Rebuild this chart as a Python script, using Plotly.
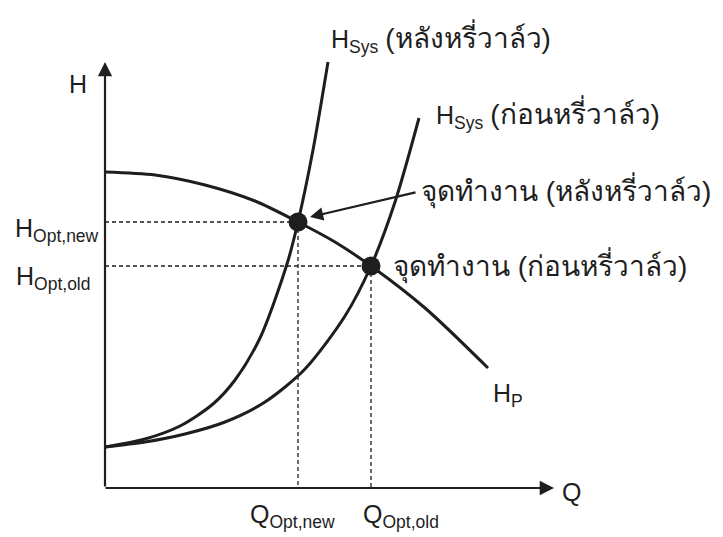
import plotly.graph_objects as go

# Pump curve H_P (flow Q, head H), arbitrary schematic units
pump_q = [0, 50, 100, 150, 193, 230, 266, 320, 383]
pump_h = [316, 313, 303, 287, 266, 246, 222, 180, 120]

# System curve after throttling the valve (steeper)
sys_new_q = [0, 40, 75, 108, 130, 155, 182, 193, 208, 223]
sys_new_h = [41, 49, 62, 84, 108, 150, 224, 266, 338, 426]

# System curve before throttling the valve
sys_old_q = [0, 40, 80, 120, 160, 200, 240, 266, 290, 314]
sys_old_h = [41, 46, 54, 66, 86, 119, 172, 222, 286, 370]

# Operating points: (after throttling, before throttling)
op_q = [193, 266]
op_h = [266, 222]

INK = "#1e1e1e"
FONT = "Liberation Sans, Arial, Noto Sans, sans-serif"

fig = go.Figure()

# Dashed guide lines from each operating point to the axes
for q, h in zip(op_q, op_h):
    fig.add_trace(go.Scatter(x=[0, q], y=[h, h], mode="lines",
                             line=dict(color=INK, width=1.3, dash="4px,3px"),
                             hoverinfo="skip", showlegend=False))
    fig.add_trace(go.Scatter(x=[q, q], y=[h, 0], mode="lines",
                             line=dict(color=INK, width=1.3, dash="4px,3px"),
                             hoverinfo="skip", showlegend=False))

for qs, hs in [(pump_q, pump_h), (sys_new_q, sys_new_h), (sys_old_q, sys_old_h)]:
    fig.add_trace(go.Scatter(x=qs, y=hs, mode="lines",
                             line=dict(color=INK, width=3, shape="spline", smoothing=0.8),
                             hoverinfo="skip", showlegend=False))

fig.add_trace(go.Scatter(x=op_q, y=op_h, mode="markers",
                         marker=dict(color=INK, size=19),
                         hoverinfo="skip", showlegend=False))

annotations = []

# Axes drawn as arrows
annotations.append(dict(x=0, y=426, ax=0, ay=0, xref="x", yref="y", axref="x", ayref="y",
                        showarrow=True, arrowhead=2, arrowsize=1.3, arrowwidth=2.2,
                        arrowcolor=INK, text=""))
annotations.append(dict(x=449, y=0, ax=-1, ay=0, xref="x", yref="y", axref="x", ayref="y",
                        showarrow=True, arrowhead=2, arrowsize=1.3, arrowwidth=2.2,
                        arrowcolor=INK, text=""))

# Arrow pointing to the new operating point
annotations.append(dict(x=205, y=271, ax=312, ay=296, xref="x", yref="y", axref="x", ayref="y",
                        showarrow=True, arrowhead=2, arrowsize=1.2, arrowwidth=2.2,
                        arrowcolor=INK, text=""))


def thai(s):
    return '<span style="font-size:28px">' + s + "</span>"


def label(text, x, y, xanchor="center", size=25):
    annotations.append(dict(x=x, y=y, xref="x", yref="y", text=text, showarrow=False,
                            xanchor=xanchor, yanchor="middle",
                            font=dict(family=FONT, size=size, color=INK)))


label("H", -27, 404)
label("Q", 466, -4)
label("H<sub>Opt,new</sub>", -4, 258, xanchor="right")
label("H<sub>Opt,old</sub>", -12, 210, xanchor="right")
label("Q<sub>Opt,new</sub>", 187, -28)
label("Q<sub>Opt,old</sub>", 296, -28)
label("H<sub>P</sub>", 403, 93)
label("H<sub>Sys</sub> " + thai("(หลังหรี่วาล์ว)"), 224, 450, xanchor="left")
label("H<sub>Sys</sub> " + thai("(ก่อนหรี่วาล์ว)"), 329, 374, xanchor="left")
label(thai("จุดทำงาน (หลังหรี่วาล์ว)"), 314, 298, xanchor="left")
label(thai("จุดทำงาน (ก่อนหรี่วาล์ว)"), 286, 223, xanchor="left")

fig.update_layout(
    width=723, height=537,
    margin=dict(l=0, r=0, t=0, b=0),
    paper_bgcolor="white", plot_bgcolor="white",
    xaxis=dict(range=[-105, 618], visible=False, fixedrange=True),
    yaxis=dict(range=[-49, 488], visible=False, fixedrange=True),
    annotations=annotations,
    showlegend=False,
)

fig.write_html("out.html")
